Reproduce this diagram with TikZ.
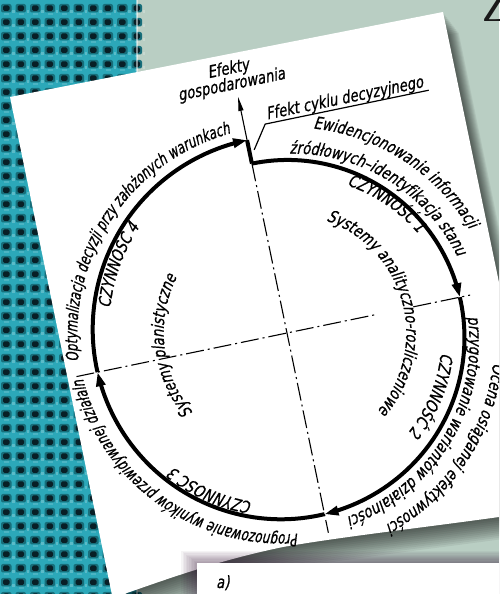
\documentclass[tikz,border=0pt]{standalone}
\usepackage{fontspec}
\setmainfont{DejaVu Sans}[FakeStretch=0.78, FakeSlant=0.2, FakeBold=0.7]
\newfontfamily\narrowfont{DejaVu Sans}[FakeStretch=0.70, FakeSlant=0.2, FakeBold=0.7]
\newfontfamily\zfont{Liberation Serif}
\usetikzlibrary{decorations.text,arrows.meta}
\definecolor{sage}{HTML}{B9CEC3}
\definecolor{tealA}{HTML}{2CA8B9}
\definecolor{tealB}{HTML}{176E7A}
\definecolor{tealC}{HTML}{081F26}
\newcommand\tf{\fontsize{17}{19}\selectfont}
\newcommand\tfn{\narrowfont\fontsize{17}{19}\selectfont}
\pgfmathdeclarefunction{SR}{1}{\pgfmathparse{173+12*(1-cos((90-(#1))/2))}}
\newcommand\paperpath{(10,497) -- (443,582) -- (520,210) -- (520,75) -- (499,77) .. controls (420,66) and (340,57) .. (283,47) .. controls (220,34) and (170,16) .. (127,1) -- (113,-6) -- cycle}
% #1 align, #2/#3 start/end angle, #4/#5 start/end radius, #6 format, #7 text
\newcommand\arctext[7][center]{\path[decorate,decoration={text along path,text align=#1,text={|#6|#7}}]
  plot[domain=#2:#3,samples=60,variable=\t]
  ({(#4+(#5-#4)*((\t)-(#2))/((#3)-(#2)))*cos(\t)},{(#4+(#5-#4)*((\t)-(#2))/((#3)-(#2)))*sin(\t)});}
\tikzset{
  axisline/.style={line width=1.1pt, dash pattern=on 18pt off 4pt on 2pt off 4pt},
  flow/.style={line width=4pt, -{Triangle[length=14pt,width=9pt]}},
  leader/.style={line width=1.2pt},
  lbl/.style={font=\tf, inner sep=0pt}
}
\begin{document}
\begin{tikzpicture}[x=1pt,y=1pt]
\useasboundingbox (0,0) rectangle (499,594);
\clip (0,0) rectangle (499,594);
% background
\fill[sage] (0,0) rectangle (499,594);
% burlap texture
\fill[tealA] (0,0) rectangle (137,594);
\foreach \j in {0,...,42} {
  \foreach \i in {0,...,9} {
    \fill[tealB, rounded corners=2pt] ({1+14.5*\i},{590-14*\j}) rectangle +(10.5,-8.5);
    \fill[tealC, rounded corners=1.5pt] ({3+14.5*\i},{588.5-14*\j}) rectangle +(6.5,-5.5);
    \fill[white,opacity=0.22] ({12+14.5*\i},{584-14*\j}) rectangle +(2.5,-3);
    \fill[white,opacity=0.15] ({4+14.5*\i},{580.5-14*\j}) rectangle +(5,-2);
  }
}
\fill[white,opacity=0.5] (135.5,0) rectangle (137.5,594);
% paper shadow
\foreach \k in {1,...,12} {
  \fill[black,opacity=0.06,shift={({1.3*\k},{-1.7*\k})}] \paperpath;
}
% paper
\fill[white] \paperpath;
% lower card with shadow
\foreach \k in {1,...,10} {
  \fill[violet!30!black,opacity=0.045] ({197-1.6*\k},-10) rectangle (510,{31+1.2*\k});
}
\fill[white] (197,-10) rectangle (510,31);
\node[lbl, anchor=base west] (cardA) at (216,6) {a)};
% title letter
\node[anchor=base west, inner sep=0pt, text=black!90, font=\zfont\fontsize{44}{44}\selectfont] (Zt) at (482,572) {Z};

% the diagram
\begin{scope}[shift={(287,261)}, rotate=11.7, transform shape]
  \coordinate (vtop) at (0,241);
  \coordinate (vjog) at (0,197);
  \coordinate (vstart) at (0,173);
  \coordinate (vbot) at (0,-204);
  \coordinate (hl) at (-215,0);
  \coordinate (hm1) at (92,0);
  \coordinate (hm2) at (129,0);
  \coordinate (hr) at (187,0);
  \coordinate (l1) at (5,186);
  \coordinate (l2) at (21,209);
  \coordinate (l3) at (188,209);
  % axes
  \draw[axisline] (vstart) -- (vbot);
  \draw[axisline] (hl) -- (hm1);
  \draw[axisline] (hm2) -- (hr);
  \draw[line width=1.1pt, -{Triangle[length=14pt,width=5pt]}] (vjog) -- (vtop);
  % leader
  \draw[leader] (l1) -- (l2) -- (l3);
  % spiral of activities
  \draw[line width=4pt] (vjog) -- (vstart);
  \draw[flow] plot[domain=90:0,samples=50,variable=\t] ({SR(\t)*cos(\t)},{SR(\t)*sin(\t)});
  \draw[flow] plot[domain=0:-90,samples=50,variable=\t] ({SR(\t)*cos(\t)},{SR(\t)*sin(\t)});
  \draw[flow] plot[domain=-90:-180,samples=50,variable=\t] ({SR(\t)*cos(\t)},{SR(\t)*sin(\t)});
  \draw[flow] plot[domain=-180:-270,samples=50,variable=\t] ({SR(\t)*cos(\t)},{SR(\t)*sin(\t)});
  % straight labels
  \node[lbl] (ef1) at (-4,270) {Efekty};
  \node[lbl] (ef2) at (-4,254) {gospodarowania};
  \node[lbl, anchor=base] (efc) at (104,213) {Ffekt cyklu decyzyjnego};
  % curved labels
  \arctext{74}{15}{206}{210}{\tf}{Ewidencjonowanie informacji}
  \arctext{80}{10}{179}{187}{\tf}{źródłowych–identyfikacja stanu}
  \arctext{59}{23}{159}{165}{\tf}{CZYNNOŚĆ 1}
  \arctext{62}{-55}{119}{119.5}{\tf}{Systemy analityczno-rozliczeniowe}
  \arctext{-12}{-82}{207}{217}{\tf}{Ocena osiąganej efektywności}
  \arctext{-4}{-86}{181}{194}{\tf}{przygotowanie wariantów działalności}
  \arctext{-16}{-54}{155}{157}{\tf}{CZYNNOŚĆ 2}
  \arctext[right]{-80}{-179}{199}{209}{\tfn}{Prognozowanie wyników przewidywanej działaln}
  \arctext{-110}{-145}{172}{176}{\tf}{CZYNNOŚĆ 3}
  \arctext[left]{176}{80}{210}{207}{\tfn}{Optymalizacja decyzji przy założonych warunkach}
  \arctext{164}{129}{178}{182}{\tf}{CZYNNOŚĆ 4}
  \arctext{214}{136}{123}{123.5}{\tf}{Systemy planistyczne}
\end{scope}
\end{tikzpicture}
\end{document}
